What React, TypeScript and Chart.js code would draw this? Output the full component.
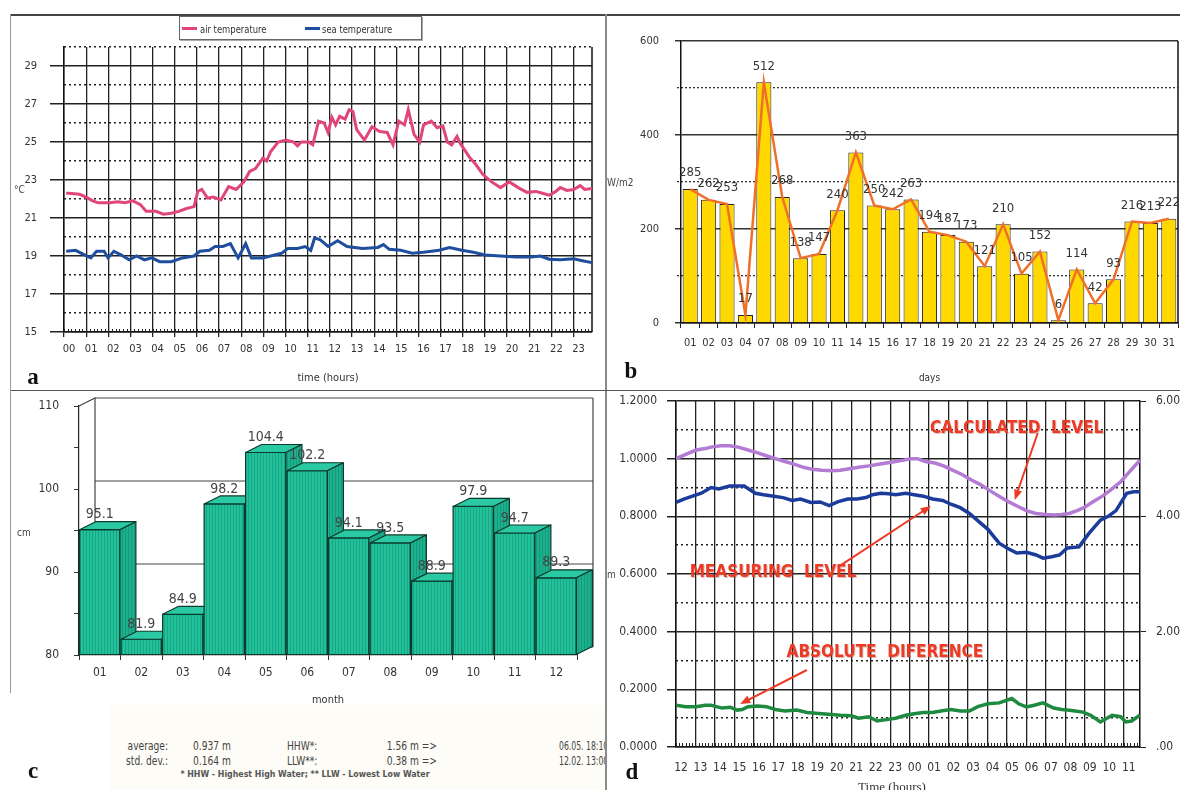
import React, { useEffect, useRef } from 'react';
import { Chart, registerables } from 'chart.js';

Chart.register(...registerables);

const FONT = "'Liberation Sans Narrow','DejaVu Sans Condensed','Arial Narrow',Arial,sans-serif";
const SERIF = "'Liberation Serif','DejaVu Serif','Times New Roman',serif";
Chart.defaults.font.family = FONT;

// ---------- panel a : air / sea temperature ----------
const A_HOUR_LABELS = ['00','01','02','03','04','05','06','07','08','09','10','11','12','13','14','15','16','17','18','19','20','21','22','23'];
const HOUR_TICKS = [0,1,2,3,4,5,6,7,8,9,10,11,12,13,14,15,16,17,18,19,20,21,22,23];
const A_TEMP_MAJOR = [15,17,19,21,23,25,27,29];
const A_TEMP_MINOR = [16,18,20,22,24,26,28,30];
const AIR_HOURS = [0.1,0.2,0.7,1.0,1.3,1.55,2.07,2.42,2.76,3.11,3.45,3.71,4.15,4.49,4.84,5.18,5.53,5.87,6.04,6.22,6.48,6.74,7.08,7.43,7.77,8.12,8.38,8.64,8.98,9.15,9.33,9.67,10.02,10.36,10.54,10.71,11.05,11.23,11.49,11.74,11.92,12.09,12.26,12.44,12.69,12.87,13.04,13.21,13.56,13.90,14.25,14.59,14.85,15.11,15.37,15.54,15.80,16.06,16.23,16.58,16.84,17.10,17.30,17.50,17.74,17.90,18.30,18.60,18.90,19.30,19.70,20.10,20.50,20.90,21.30,21.60,21.90,22.20,22.40,22.70,23.00,23.30,23.50,23.83];
const AIR_TEMP = [22.3,22.3,22.25,22.1,21.9,21.8,21.8,21.85,21.8,21.9,21.7,21.35,21.35,21.2,21.25,21.35,21.5,21.6,22.4,22.5,22.05,22.1,21.95,22.65,22.5,22.9,23.45,23.6,24.15,24.0,24.5,25.0,25.1,25.0,24.8,25.0,25.0,24.85,26.1,26.0,25.5,26.3,25.9,26.35,26.2,26.7,26.6,25.65,25.1,25.8,25.55,25.5,24.85,26.1,25.9,26.7,25.4,25.0,25.9,26.1,25.75,25.85,25.0,24.85,25.3,24.9,24.2,23.8,23.3,22.9,22.6,22.9,22.6,22.35,22.4,22.3,22.2,22.4,22.6,22.45,22.5,22.7,22.5,22.55];
const SEA_HOURS = [0.1,0.52,0.95,1.21,1.47,1.81,1.99,2.25,2.59,2.94,3.28,3.63,3.97,4.32,4.84,5.35,5.87,6.13,6.56,6.82,7.17,7.51,7.86,8.2,8.46,8.98,9.5,9.84,10.1,10.54,10.88,11.14,11.31,11.57,11.92,12.35,12.78,13.47,14.16,14.42,14.68,15.2,15.72,16.23,16.93,17.4,17.96,18.48,19.0,19.7,20.4,21.1,21.5,21.9,22.4,23.0,23.4,23.83];
const SEA_TEMP = [19.25,19.3,19.05,18.9,19.25,19.25,18.9,19.25,19.05,18.8,19.0,18.8,18.9,18.7,18.7,18.9,19.0,19.25,19.3,19.5,19.5,19.65,18.9,19.65,18.9,18.9,19.05,19.15,19.4,19.4,19.5,19.3,19.95,19.85,19.5,19.8,19.5,19.4,19.45,19.6,19.35,19.3,19.15,19.2,19.3,19.45,19.3,19.2,19.05,19.0,18.95,18.95,19.0,18.83,18.8,18.85,18.75,18.65];

// ---------- panel b : daily radiation ----------
const DAYS = ['01','02','03','04','07','08','09','10','11','14','15','16','17','18','19','20','21','22','23','24','25','26','27','28','29','30','31'];
const RADIATION = [285,262,253,17,512,268,138,147,240,363,250,242,263,194,187,173,121,210,105,152,6,114,42,93,216,213,222];
const B_MAJOR = [0,200,400,600];
const B_MINOR = [100,300,500];

// ---------- panel c : monthly sea level ----------
const MONTHS = ['01','02','03','04','05','06','07','08','09','10','11','12'];
const SEA_LEVEL = [95.1,81.9,84.9,98.2,104.4,102.2,94.1,93.5,88.9,97.9,94.7,89.3];
const C_BASE = 80;
const C_TICKS = [80,85,90,95,100,105,110];
const C_WALL = [90,100,110];

// ---------- panel d : tide levels ----------
const D_HOUR_LABELS = ['12','13','14','15','16','17','18','19','20','21','22','23','00','01','02','03','04','05','06','07','08','09','10','11'];
const D_MAJOR = [0,0.2,0.4,0.6,0.8,1.0,1.2];
const D_MINOR = [0.1,0.3,0.5,0.7,0.9,1.1];
const D_RIGHT = [0,2,4,6];
const CALC_HOURS = [0,0.5,1.04,1.5,1.8,2.3,2.75,3.2,3.7,4.2,4.64,5.1,5.59,6.1,6.54,7.0,7.49,8.0,8.44,8.9,9.38,9.9,10.33,10.8,11.28,11.7,12.04,12.4,12.8,13.3,13.74,14.2,14.69,15.2,15.64,16.1,16.59,17.1,17.54,18.0,18.48,19.0,19.43,19.8,20.19,20.6,20.95,21.4,21.9,22.3,22.84,23.3,23.83];
const CALC_LEVEL = [1.0,1.015,1.03,1.035,1.04,1.045,1.045,1.04,1.03,1.02,1.01,1.0,0.99,0.98,0.97,0.963,0.96,0.958,0.96,0.965,0.97,0.975,0.98,0.985,0.99,0.995,1.0,1.0,0.99,0.985,0.975,0.96,0.945,0.925,0.91,0.89,0.87,0.85,0.835,0.82,0.81,0.806,0.805,0.806,0.81,0.82,0.83,0.85,0.87,0.89,0.92,0.955,0.995];
const MEAS_HOURS = [0,0.4,0.85,1.3,1.8,2.2,2.75,3.32,3.5,4.08,4.5,5.02,5.5,5.97,6.4,6.92,7.4,7.87,8.3,8.82,9.3,9.76,10.1,10.52,10.9,11.28,11.8,12.23,12.7,13.18,13.7,14.12,14.6,15.07,15.5,16.02,16.6,17.0,17.5,18.0,18.5,18.85,19.3,19.7,20.1,20.7,21.2,21.8,22.2,22.6,23.15,23.5,23.83];
const MEAS_LEVEL = [0.848,0.86,0.87,0.88,0.9,0.895,0.905,0.905,0.905,0.88,0.875,0.87,0.865,0.855,0.86,0.848,0.85,0.837,0.85,0.86,0.86,0.865,0.875,0.88,0.878,0.875,0.88,0.875,0.87,0.86,0.855,0.842,0.83,0.81,0.785,0.755,0.707,0.69,0.673,0.675,0.666,0.655,0.66,0.666,0.69,0.694,0.74,0.787,0.8,0.82,0.88,0.885,0.885];
const DIFF_HOURS = [0,0.5,1.04,1.5,1.8,2.37,2.8,3.13,3.4,3.7,4.2,4.64,5.1,5.59,6.2,6.73,7.5,8.44,9.0,9.38,9.9,10.33,10.8,11.28,11.8,12.23,12.7,13.18,13.6,14.12,14.6,15.07,15.5,16.02,16.6,17.25,17.6,18.0,18.4,18.85,19.4,19.81,20.1,20.5,20.9,21.3,21.8,22.4,22.84,23.1,23.4,23.83];
const DIFF_LEVEL = [0.145,0.14,0.14,0.145,0.145,0.135,0.138,0.128,0.13,0.14,0.142,0.14,0.13,0.125,0.128,0.12,0.115,0.11,0.108,0.1,0.105,0.09,0.095,0.1,0.11,0.115,0.12,0.12,0.125,0.13,0.125,0.125,0.14,0.15,0.153,0.168,0.15,0.139,0.145,0.153,0.135,0.13,0.128,0.125,0.121,0.11,0.087,0.11,0.105,0.087,0.09,0.11];

const D_ANNOTATIONS = [
  { text: 'CALCULATED  LEVEL', at: [17.5, 1.103], from: [18.58, 1.089], to: [17.4, 0.857] },
  { text: 'MEASURING  LEVEL', at: [4.98, 0.604], from: [8.47, 0.631], to: [13.09, 0.836] },
  { text: 'ABSOLUTE  DIFERENCE', at: [10.73, 0.326], from: [6.72, 0.267], to: [3.29, 0.149] },
];

// ---------- helpers ----------
const xy = (hs: number[], vs: number[]) => hs.map((h, i) => ({ x: h, y: vs[i] }));
const fitW = (w: number) => (s: any) => { s.width = w; s.paddingLeft = 0; s.paddingRight = 0; s.paddingTop = 0; s.paddingBottom = 0; };
const fitH = (h: number) => (s: any) => { s.height = h; s.paddingLeft = 0; s.paddingRight = 0; s.paddingTop = 0; s.paddingBottom = 0; };
const setTicks = (vals: number[]) => (s: any) => { s.ticks = vals.map((v) => ({ value: v })); };

const minorTicksPlugin = {
  id: 'minorTicksP',
  beforeDatasetsDraw(chart: any, _a: any, opts: any) {
    const sc = chart.scales.x; const { ctx, chartArea } = chart;
    const step = opts.step, len = opts.len;
    ctx.save(); ctx.strokeStyle = '#222'; ctx.lineWidth = 1; ctx.beginPath();
    for (let v = sc.min; v <= sc.max + 1e-6; v += step) {
      const px = Math.round(sc.getPixelForValue(v)) + 0.5;
      ctx.moveTo(px, chartArea.bottom); ctx.lineTo(px, chartArea.bottom - len);
    }
    ctx.stroke(); ctx.restore();
  },
};

const rightBorderPlugin = {
  id: 'rightBorderP',
  beforeDatasetsDraw(chart: any) {
    const { ctx, chartArea } = chart;
    ctx.save(); ctx.strokeStyle = '#111'; ctx.lineWidth = 1.5; ctx.beginPath();
    ctx.moveTo(chartArea.right, chartArea.top); ctx.lineTo(chartArea.right, chartArea.bottom);
    ctx.stroke(); ctx.restore();
  },
};

const barValuesPlugin = {
  id: 'barValuesP',
  afterDatasetsDraw(chart: any, _a: any, opts: any) {
    const meta = chart.getDatasetMeta(opts.datasetIndex);
    const data = chart.data.datasets[opts.datasetIndex].data;
    const { ctx } = chart;
    ctx.save(); ctx.font = `${opts.size}px ${FONT}`; ctx.fillStyle = opts.color;
    ctx.textAlign = 'center'; ctx.textBaseline = 'middle';
    meta.data.forEach((el: any, i: number) => {
      const p = el.getProps(['x', 'y'], true);
      ctx.fillText(opts.format(data[i]), p.x, p.y - opts.dy);
    });
    ctx.restore();
  },
};

function stripePattern(ctx: CanvasRenderingContext2D, base: string, stripe: string) {
  const c = document.createElement('canvas'); c.width = 3; c.height = 4;
  const g = c.getContext('2d')!; g.fillStyle = base; g.fillRect(0, 0, 3, 4);
  g.fillStyle = stripe; g.fillRect(0, 0, 1, 4);
  return ctx.createPattern(c, 'repeat')!;
}

const bars3dPlugin = {
  id: 'bars3dP',
  beforeDatasetsDraw(chart: any, _a: any, opts: any) {
    const { ctx, chartArea } = chart; const y = chart.scales.y;
    const dx = opts.dx, dy = opts.dy;
    const L = chartArea.left, R = chartArea.right;
    ctx.save(); ctx.strokeStyle = '#444'; ctx.lineWidth = 1.2; ctx.beginPath();
    opts.wall.forEach((v: number) => { const py = y.getPixelForValue(v) - dy; ctx.moveTo(L + dx, py); ctx.lineTo(R + dx, py); });
    const top = y.getPixelForValue(y.max), bot = y.getPixelForValue(y.min);
    ctx.moveTo(L, top); ctx.lineTo(L + dx, top - dy); ctx.lineTo(L + dx, bot - dy); ctx.lineTo(R + dx, bot - dy);
    ctx.moveTo(R + dx, top - dy); ctx.lineTo(R + dx, bot - dy);
    ctx.moveTo(L, bot); ctx.lineTo(L + dx, bot - dy);
    ctx.stroke(); ctx.restore();
  },
  afterDatasetsDraw(chart: any, _a: any, opts: any) {
    const { ctx } = chart; const meta = chart.getDatasetMeta(0);
    const data = chart.data.datasets[0].data;
    const dx = opts.dx, dy = opts.dy;
    const front = stripePattern(ctx, '#22C19C', '#17A783');
    const side = stripePattern(ctx, '#1DB08E', '#159a7a');
    ctx.save(); ctx.strokeStyle = '#0A3A2C'; ctx.lineWidth = 1.2; ctx.lineJoin = 'round';
    meta.data.forEach((el: any) => {
      const p = el.getProps(['x', 'y', 'base', 'width'], true);
      const l = p.x - p.width / 2, r = p.x + p.width / 2, t = p.y, b = p.base;
      ctx.fillStyle = front; ctx.beginPath(); ctx.rect(l, t, r - l, b - t); ctx.fill(); ctx.stroke();
      ctx.fillStyle = '#2BC9A3'; ctx.beginPath();
      ctx.moveTo(l, t); ctx.lineTo(l + dx, t - dy); ctx.lineTo(r + dx, t - dy); ctx.lineTo(r, t); ctx.closePath(); ctx.fill(); ctx.stroke();
      ctx.fillStyle = side; ctx.beginPath();
      ctx.moveTo(r, t); ctx.lineTo(r + dx, t - dy); ctx.lineTo(r + dx, b - dy); ctx.lineTo(r, b); ctx.closePath(); ctx.fill(); ctx.stroke();
    });
    ctx.font = `14px ${FONT}`; ctx.fillStyle = '#444'; ctx.textAlign = 'center'; ctx.textBaseline = 'middle';
    meta.data.forEach((el: any, i: number) => {
      const p = el.getProps(['x', 'y'], true);
      ctx.fillText(Number(data[i]).toFixed(1), p.x, p.y - dy - 7);
    });
    ctx.restore();
  },
};

const annotationPlugin = {
  id: 'annotP',
  afterDatasetsDraw(chart: any, _a: any, opts: any) {
    const { ctx } = chart; const x = chart.scales.x, y = chart.scales.y;
    const P = (a: number[]) => [x.getPixelForValue(a[0]), y.getPixelForValue(a[1])];
    ctx.save();
    opts.items.forEach((it: any) => {
      const [fx, fy] = P(it.from), [tx, ty] = P(it.to);
      ctx.strokeStyle = '#EC3A25'; ctx.fillStyle = '#EC3A25'; ctx.lineWidth = 2;
      const ang = Math.atan2(ty - fy, tx - fx); const hl = 11;
      ctx.beginPath(); ctx.moveTo(fx, fy); ctx.lineTo(tx - Math.cos(ang) * 6, ty - Math.sin(ang) * 6); ctx.stroke();
      ctx.beginPath(); ctx.moveTo(tx, ty);
      ctx.lineTo(tx - hl * Math.cos(ang - 0.38), ty - hl * Math.sin(ang - 0.38));
      ctx.lineTo(tx - hl * Math.cos(ang + 0.38), ty - hl * Math.sin(ang + 0.38));
      ctx.closePath(); ctx.fill();
      const [ax, ay] = P(it.at);
      ctx.font = `bold 17px ${FONT}`; ctx.textAlign = 'center'; ctx.textBaseline = 'middle';
      ctx.fillStyle = 'rgba(150,60,50,0.35)'; ctx.fillText(it.text, ax + 1, ay + 1);
      ctx.fillStyle = '#EC3A25'; ctx.fillText(it.text, ax, ay);
    });
    ctx.restore();
  },
};

const tickFont = (size: number) => ({ family: FONT, size });
const base = { responsive: false, animation: false as const, devicePixelRatio: 1, events: [] as any[] };

// ---------- chart configs ----------
const makeA = () => ({
  type: 'line',
  data: { datasets: [
    { label: 'air temperature', data: xy(AIR_HOURS, AIR_TEMP), borderColor: '#E0467C', borderWidth: 3, pointRadius: 0, tension: 0 },
    { label: 'sea temperature', data: xy(SEA_HOURS, SEA_TEMP), borderColor: '#1F4E9E', borderWidth: 3, pointRadius: 0, tension: 0 },
  ] },
  options: { ...base,
    layout: { padding: { left: 0, top: 32, right: 14, bottom: 0 } },
    plugins: { legend: { display: false }, tooltip: { enabled: false }, minorTicksP: { step: 1 / 6, len: 3 } },
    scales: {
      x: { type: 'linear', min: 0, max: 23.833, afterBuildTicks: setTicks(HOUR_TICKS), afterFit: fitH(58),
        grid: { color: '#222', lineWidth: 1.3, tickLength: 5 }, border: { color: '#111', width: 1.5 },
        ticks: { callback: (_v: any, i: number) => A_HOUR_LABELS[i], labelOffset: 5, padding: 6, maxRotation: 0, autoSkip: false, font: tickFont(11), color: '#333' },
        title: { display: true, text: 'time (hours)', font: tickFont(11), color: '#333', padding: { top: 0, bottom: 5 } } },
      y: { type: 'linear', position: 'left', weight: 1, min: 15, max: 30, afterBuildTicks: setTicks(A_TEMP_MAJOR), afterFit: fitW(53),
        grid: { color: '#222', lineWidth: 1.5, tickLength: 14 }, border: { color: '#111', width: 1.5 },
        ticks: { padding: 13, font: tickFont(11), color: '#333' } },
      y2: { type: 'linear', position: 'left', weight: 0, min: 15, max: 30, afterBuildTicks: setTicks(A_TEMP_MINOR), afterFit: fitW(0),
        grid: { color: '#222', lineWidth: 1.5, drawTicks: false }, border: { display: false, dash: [2, 3] }, ticks: { display: false } },
    },
  },
  plugins: [minorTicksPlugin, rightBorderPlugin],
});

const makeB = () => ({
  type: 'bar',
  data: { labels: DAYS, datasets: [
    { type: 'line', data: RADIATION, borderColor: '#F0702A', borderWidth: 2.5, pointRadius: 0, tension: 0, order: 0 },
    { type: 'bar', data: RADIATION, backgroundColor: '#FFD800', borderColor: '#222', borderWidth: 1, barPercentage: 0.82, categoryPercentage: 1, order: 1 },
  ] },
  options: { ...base,
    layout: { padding: { left: 0, top: 26, right: 2, bottom: 0 } },
    plugins: { legend: { display: false }, tooltip: { enabled: false }, barValuesP: { datasetIndex: 1, dy: 16, size: 13, color: '#333', format: (v: number) => String(v) } },
    scales: {
      x: { type: 'category', offset: true, afterFit: fitH(67),
        grid: { offset: true, drawOnChartArea: false, tickLength: 5, color: '#222' }, border: { color: '#111', width: 1.5 },
        ticks: { padding: 9, font: tickFont(11), color: '#333', autoSkip: false, maxRotation: 0 },
        title: { display: true, text: 'days', font: tickFont(10), color: '#333', padding: { top: 0, bottom: 6 } } },
      y: { type: 'linear', position: 'left', weight: 1, min: 0, max: 600, afterBuildTicks: setTicks(B_MAJOR), afterFit: fitW(75),
        grid: { color: '#333', lineWidth: 1.5, tickLength: 6 }, border: { color: '#111', width: 1.5 },
        ticks: { padding: 16, font: tickFont(11), color: '#333' } },
      y2: { type: 'linear', position: 'left', weight: 0, min: 0, max: 600, afterBuildTicks: setTicks(B_MINOR), afterFit: fitW(0),
        grid: { color: '#333', lineWidth: 1.3, tickLength: 4, tickBorderDash: [2, 2] }, border: { display: false, dash: [2, 2] }, ticks: { display: false } },
    },
  },
  plugins: [barValuesPlugin, rightBorderPlugin],
});

const makeC = () => ({
  type: 'bar',
  data: { labels: MONTHS, datasets: [
    { data: SEA_LEVEL, base: C_BASE, backgroundColor: 'rgba(0,0,0,0)', borderWidth: 0, barPercentage: 0.97, categoryPercentage: 1 },
  ] },
  options: { ...base,
    layout: { padding: { left: 0, top: 15, right: 29, bottom: 0 } },
    plugins: { legend: { display: false }, tooltip: { enabled: false }, bars3dP: { dx: 16, dy: 8, wall: C_WALL } },
    scales: {
      x: { type: 'category', offset: true, afterFit: fitH(56),
        grid: { offset: true, drawOnChartArea: false, tickLength: 5, color: '#333' }, border: { color: '#222', width: 1.2 },
        ticks: { padding: 6, font: tickFont(12), color: '#333', autoSkip: false, maxRotation: 0 },
        title: { display: true, text: 'month', font: tickFont(11), color: '#333', padding: { top: 0, bottom: 4 } } },
      y: { type: 'linear', min: 80, max: 110, afterBuildTicks: setTicks(C_TICKS), afterFit: fitW(68),
        grid: { drawOnChartArea: false, tickLength: 5, color: '#333' }, border: { color: '#222', width: 1.2 },
        ticks: { padding: 15, font: tickFont(12), color: '#333', callback: (v: number) => (v % 10 === 0 ? String(v) : '') } },
    },
  },
  plugins: [bars3dPlugin],
});

const makeD = () => ({
  type: 'line',
  data: { datasets: [
    { label: 'calculated', data: xy(CALC_HOURS, CALC_LEVEL), borderColor: '#B37BD3', borderWidth: 3.5, pointRadius: 0, tension: 0 },
    { label: 'measuring', data: xy(MEAS_HOURS, MEAS_LEVEL), borderColor: '#1C3C9C', borderWidth: 3.5, pointRadius: 0, tension: 0 },
    { label: 'difference', data: xy(DIFF_HOURS, DIFF_LEVEL), borderColor: '#1E8A40', borderWidth: 3.5, pointRadius: 0, tension: 0 },
  ] },
  options: { ...base,
    layout: { padding: { left: 0, top: 10, right: 0, bottom: 0 } },
    plugins: { legend: { display: false }, tooltip: { enabled: false }, minorTicksP: { step: 1 / 6, len: 4 }, annotP: { items: D_ANNOTATIONS } },
    scales: {
      x: { type: 'linear', min: 0, max: 23.833, afterBuildTicks: setTicks(HOUR_TICKS), afterFit: fitH(43),
        grid: { color: '#222', lineWidth: 1.3, drawTicks: false }, border: { color: '#111', width: 1.5 },
        ticks: { callback: (_v: any, i: number) => D_HOUR_LABELS[i], labelOffset: 5, padding: 14, maxRotation: 0, autoSkip: false, font: tickFont(12), color: '#333' } },
      y: { type: 'linear', position: 'left', weight: 1, min: 0, max: 1.2, afterBuildTicks: setTicks(D_MAJOR), afterFit: fitW(69),
        grid: { color: '#222', lineWidth: 1.5, tickLength: 9 }, border: { color: '#111', width: 1.5 },
        ticks: { padding: 10, font: tickFont(12), color: '#333', callback: (v: number) => v.toFixed(4) } },
      y2: { type: 'linear', position: 'left', weight: 0, min: 0, max: 1.2, afterBuildTicks: setTicks(D_MINOR), afterFit: fitW(0),
        grid: { color: '#222', lineWidth: 1.5, drawTicks: false }, border: { display: false, dash: [2, 3] }, ticks: { display: false } },
      y3: { type: 'linear', position: 'right', min: 0, max: 6, afterBuildTicks: setTicks(D_RIGHT), afterFit: fitW(40),
        grid: { drawOnChartArea: false, tickLength: 6, color: '#222' }, border: { color: '#111', width: 1.5 },
        ticks: { padding: 10, font: tickFont(12), color: '#333', callback: (v: number) => (v === 0 ? '.00' : v.toFixed(2)) } },
    },
  },
  plugins: [minorTicksPlugin, annotationPlugin],
});

// ---------- components ----------
function ChartBox({ make, left, top, width, height }: { make: () => any; left: number; top: number; width: number; height: number }) {
  const ref = useRef<HTMLCanvasElement>(null);
  useEffect(() => {
    const chart = new Chart(ref.current as HTMLCanvasElement, make());
    return () => chart.destroy();
  }, []);
  return <canvas ref={ref} width={width} height={height} style={{ position: 'absolute', left, top, width, height }} />;
}

function T({ x, y, children, size = 12, align = 'left', font = FONT, color = '#444', weight = 'normal' as any, vcenter = true, sx = 1 }: any) {
  const tx = align === 'center' ? '-50%' : align === 'right' ? '-100%' : '0';
  const origin = align === 'center' ? 'center' : align === 'right' ? 'right' : 'left';
  return (
    <div style={{ position: 'absolute', left: x, top: y, transform: `translate(${tx}, ${vcenter ? '-50%' : '0'})`, whiteSpace: 'pre', fontFamily: font, fontSize: size, color, fontWeight: weight, lineHeight: 1 }}>
      <div style={{ transform: `scaleX(${sx})`, transformOrigin: `${origin} center` }}>{children}</div>
    </div>
  );
}

function Line({ x, y, w, h, c }: any) {
  return <div style={{ position: 'absolute', left: x, top: y, width: w, height: h, background: c }} />;
}

const SX = 0.78;

export default function App() {
  return (
    <div style={{ position: 'fixed', left: 0, top: 0, width: 1180, height: 790, overflow: 'hidden', background: '#fff' }}>
      <ChartBox make={makeA} left={11} top={15} width={595} height={375} />
      <ChartBox make={makeB} left={606} top={15} width={574} height={375} />
      <ChartBox make={makeC} left={11} top={391} width={595} height={320} />
      <ChartBox make={makeD} left={607} top={391} width={573} height={399} />

      {/* statistics under panel c, clipped at the panel divider */}
      <div style={{ position: 'absolute', left: 0, top: 705, width: 605, height: 85, overflow: 'hidden' }}>
        <div style={{ position: 'absolute', left: 110, top: 0, width: 495, height: 85, background: '#FDFCF6' }} />
        <T x={168} y={40} size={13} align="right" sx={SX}>average:</T>
        <T x={193} y={40} size={13} sx={SX}>0.937 m</T>
        <T x={287} y={40} size={13} sx={SX}>HHW*:</T>
        <T x={437} y={40} size={13} align="right" sx={SX}>1.56 m =&gt;</T>
        <T x={559} y={40} size={13} sx={0.66}>06.05. 18:10</T>
        <T x={168} y={55} size={13} align="right" sx={SX}>std. dev.:</T>
        <T x={193} y={55} size={13} sx={SX}>0.164 m</T>
        <T x={287} y={55} size={13} sx={SX}>LLW**:</T>
        <T x={437} y={55} size={13} align="right" sx={SX}>0.38 m =&gt;</T>
        <T x={559} y={55} size={13} sx={0.66}>12.02. 13:00</T>
        <T x={305} y={69} size={9.5} weight="bold" align="center" color="#555" sx={0.92}>* HHW - Highest High Water; ** LLW - Lowest Low Water</T>
      </div>

      {/* frame lines */}
      <Line x={10} y={14} w={1170} h={1.5} c="#444" />
      <Line x={605} y={14} w={1.5} h={776} c="#8a8a8a" />
      <Line x={10} y={14} w={1} h={376} c="#999" />
      <Line x={10} y={389.5} w={1170} h={1.5} c="#555" />
      <Line x={10} y={390} w={1} h={303} c="#999" />

      {/* panel a legend */}
      <div style={{ position: 'absolute', left: 179, top: 16, width: 243, height: 24, border: '1px solid #666', boxShadow: '1px 1px 0 #aaa', background: '#fff', boxSizing: 'border-box' }}>
        <div style={{ position: 'absolute', left: 2, top: 10, width: 15, height: 3, background: '#E0467C' }} />
        <T x={20} y={11.5} size={11} color="#333" sx={0.85}>air temperature</T>
        <div style={{ position: 'absolute', left: 125, top: 10, width: 15, height: 3, background: '#1F4E9E' }} />
        <T x={142} y={11.5} size={11} color="#333" sx={0.85}>sea temperature</T>
      </div>

      {/* axis unit labels */}
      <T x={14} y={190} size={10} color="#444">°C</T>
      <T x={607} y={183} size={10} color="#444">W/m2</T>
      <T x={17} y={533} size={10} color="#444">cm</T>
      <T x={607} y={575} size={10} color="#444">m</T>
      <T x={892} y={780} size={13} font={SERIF} color="#333" align="center" vcenter={false}>Time (hours)</T>

      {/* panel letters */}
      <T x={33} y={376} size={23} font={SERIF} weight="bold" color="#111" align="center">a</T>
      <T x={631} y={370} size={23} font={SERIF} weight="bold" color="#111" align="center">b</T>
      <T x={33} y={770} size={23} font={SERIF} weight="bold" color="#111" align="center">c</T>
      <T x={632} y={771} size={23} font={SERIF} weight="bold" color="#111" align="center">d</T>
    </div>
  );
}
